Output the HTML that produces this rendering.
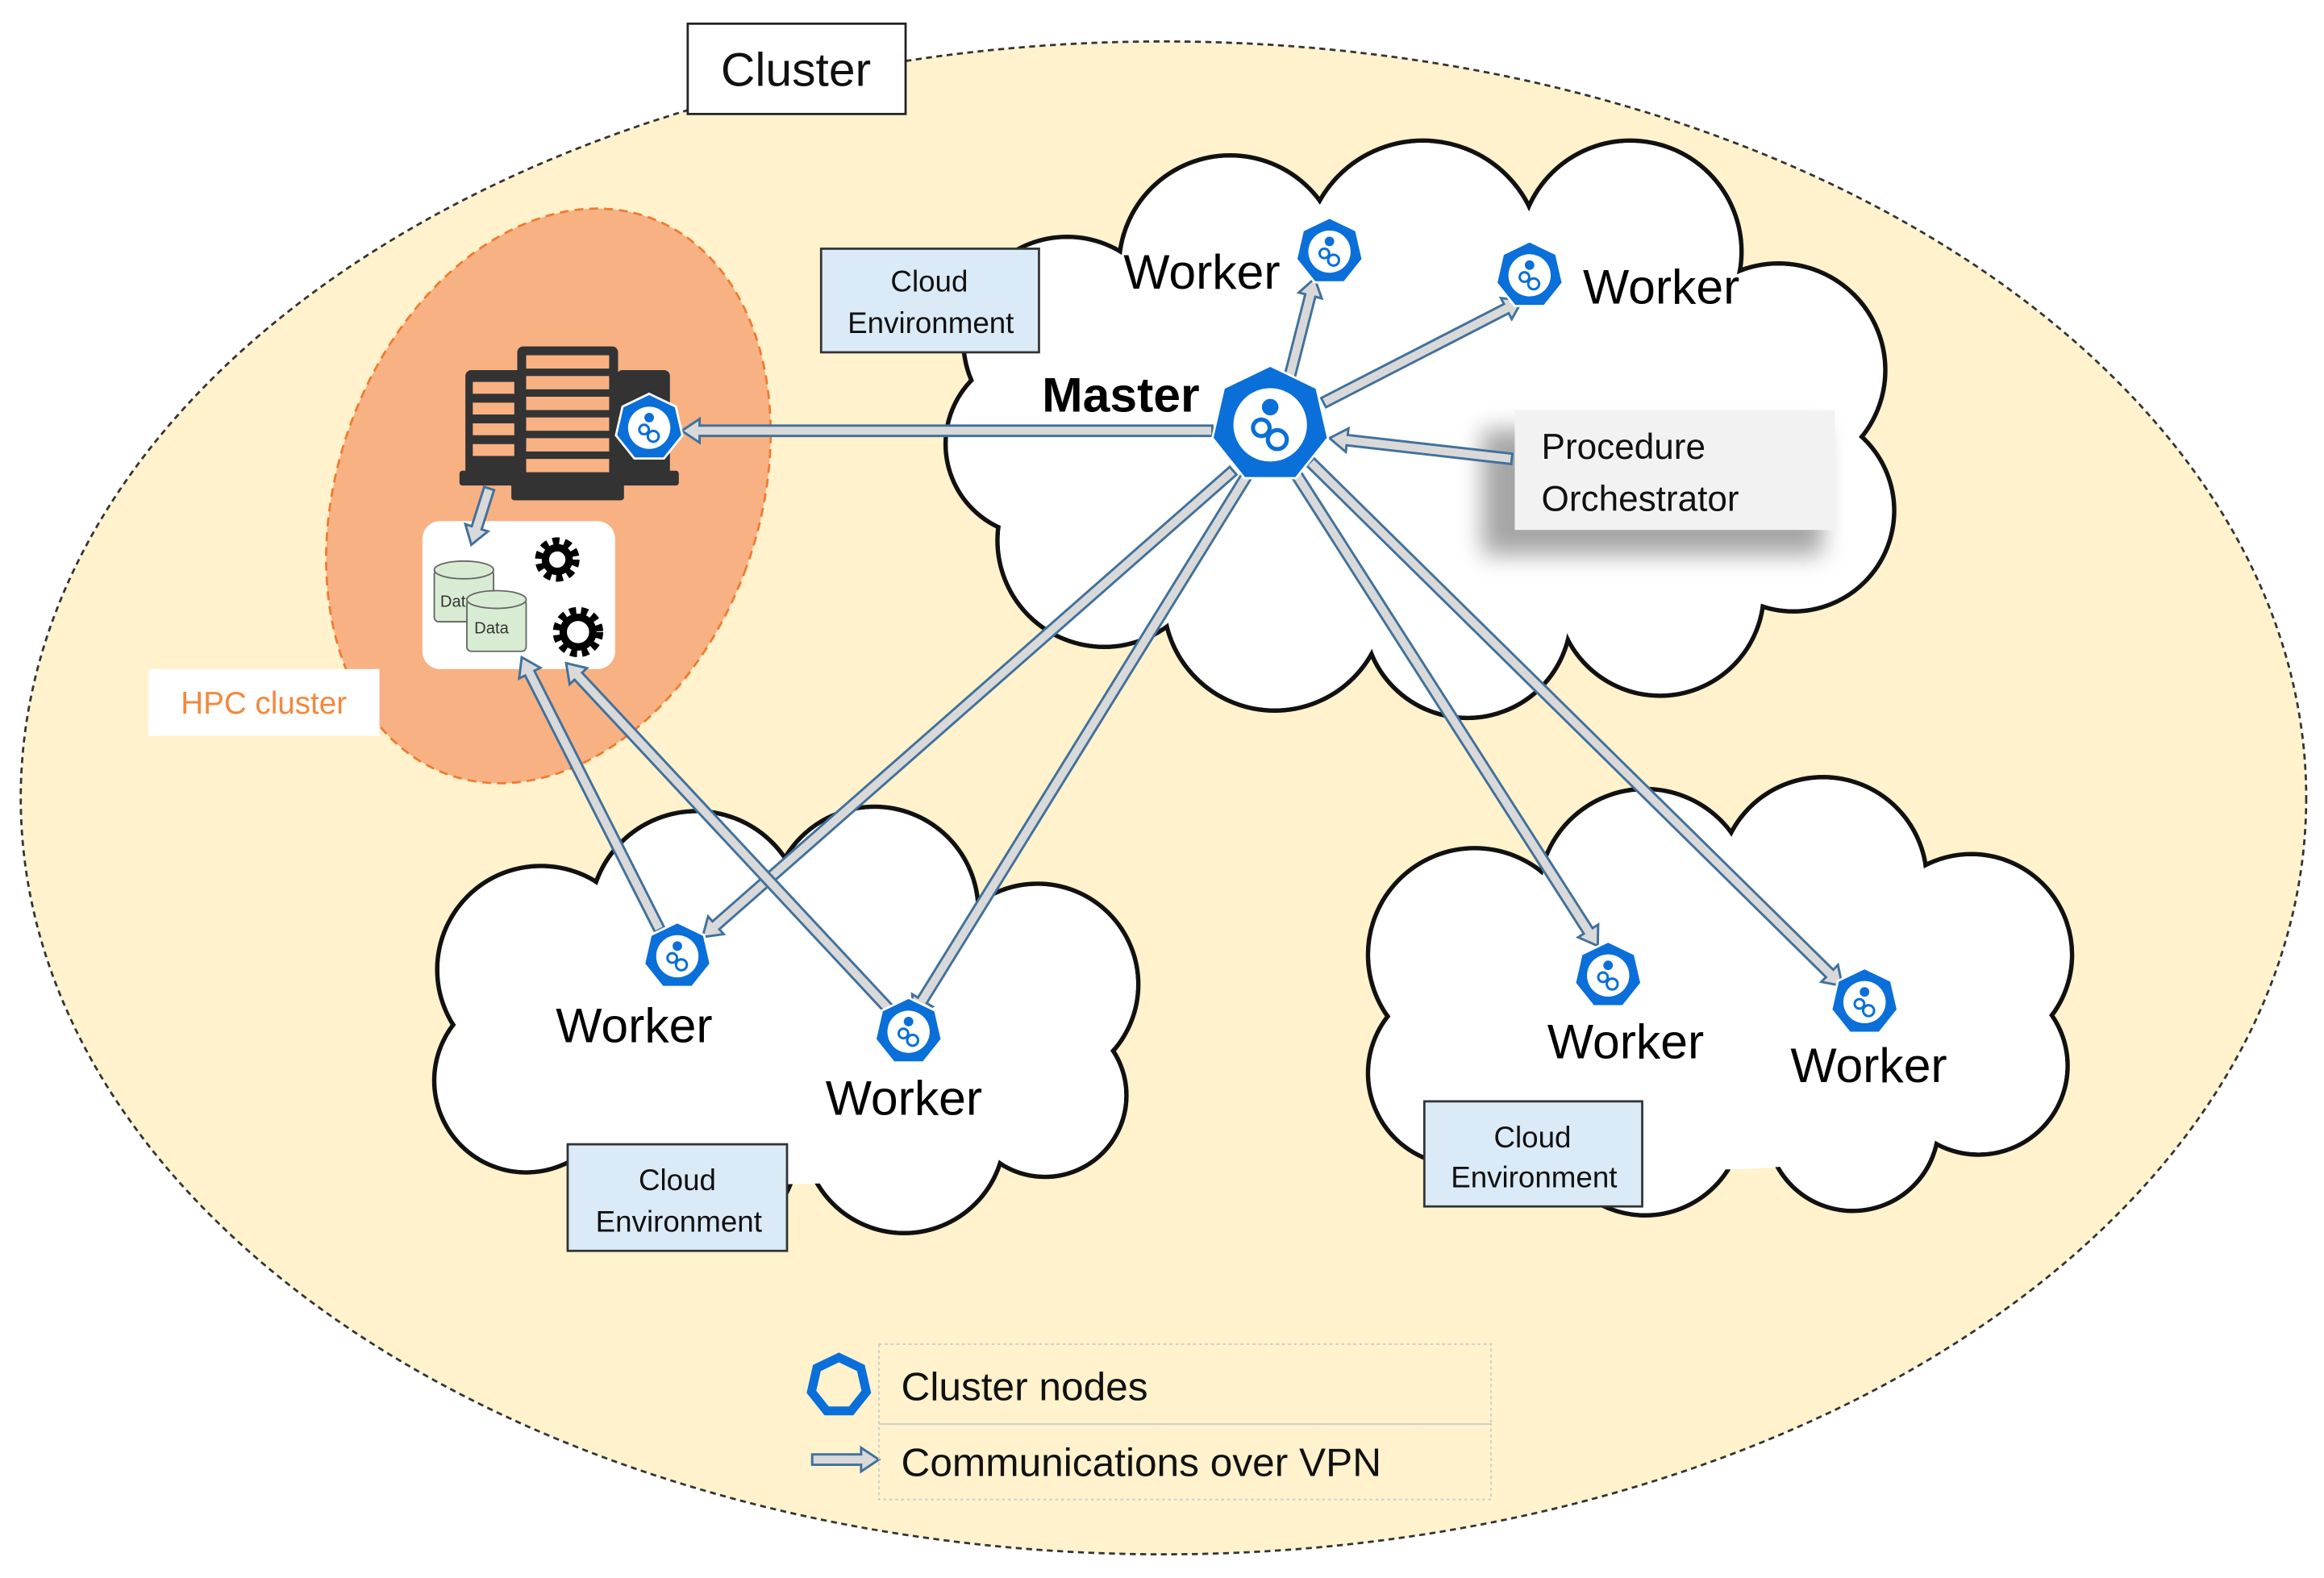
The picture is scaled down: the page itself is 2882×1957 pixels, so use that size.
<!DOCTYPE html>
<html><head><meta charset="utf-8"><style>html,body{margin:0;padding:0;background:#fff}svg{display:block}</style></head>
<body>
<svg id="s" width="2882" height="1957" viewBox="0 0 1568 1066" preserveAspectRatio="none" xmlns="http://www.w3.org/2000/svg" font-family="Liberation Sans, DejaVu Sans, sans-serif">
<defs>
<filter id="sh" x="-30%" y="-30%" width="160%" height="180%"><feGaussianBlur stdDeviation="8"/></filter>
</defs>
<ellipse cx="785" cy="539" rx="771" ry="511" fill="#fff2cc" stroke="#333" stroke-width="1.5" stroke-dasharray="4,3"/>
<rect x="464" y="16" width="147" height="61" fill="#fff" stroke="#222" stroke-width="1.5"/>
<text x="537" y="58" font-size="32" text-anchor="middle" fill="#111">Cluster</text>
<ellipse cx="370" cy="335" rx="142" ry="200" transform="rotate(20 370 335)" fill="#f8b183" stroke="#f07a30" stroke-width="1.5" stroke-dasharray="6,4"/>
<g id="clouds"></g>
<!-- server icon -->
<g fill="#333">
<rect x="314" y="250" width="40" height="72" rx="4"/><rect x="416" y="250" width="36" height="72" rx="4"/>
<rect x="349" y="234" width="68" height="96" rx="4"/>
<rect x="310" y="318" width="46" height="10" rx="2"/><rect x="414" y="318" width="44" height="10" rx="2"/>
<rect x="345" y="326" width="76" height="12" rx="2"/>
</g>
<g fill="#f8b183">
<rect x="355" y="240" width="56" height="9"/><rect x="355" y="254" width="56" height="9"/><rect x="355" y="268" width="56" height="9"/><rect x="355" y="282" width="56" height="9"/><rect x="355" y="296" width="56" height="9"/><rect x="355" y="310" width="56" height="9"/>
<rect x="319" y="258" width="28" height="8"/><rect x="319" y="272" width="28" height="8"/><rect x="319" y="286" width="28" height="8"/><rect x="319" y="300" width="28" height="8"/>
</g>
<rect x="285" y="352" width="130" height="100" rx="12" fill="#fff"/>
<g stroke="#666" stroke-width="1" fill="#d8ecd3">
<rect x="293" y="385" width="40" height="35" rx="3"/><ellipse cx="313" cy="385" rx="20" ry="6"/>
<rect x="315" y="405" width="40" height="35" rx="3"/><ellipse cx="335" cy="405" rx="20" ry="6"/>
</g>
<text x="297" y="410" font-size="11" fill="#333">Dat</text>
<text x="320" y="428" font-size="11" fill="#333">Data</text>
<g fill="none" stroke="#000">
<circle cx="376" cy="378" r="11" stroke-width="8" stroke-dasharray="4,3"/><circle cx="376" cy="378" r="8" stroke-width="5"/>
<circle cx="390" cy="427" r="13" stroke-width="8" stroke-dasharray="4,3"/><circle cx="390" cy="427" r="10" stroke-width="5"/>
</g>
<rect x="100" y="452" width="156" height="45" fill="#fff"/>
<text x="178" y="482" font-size="21" text-anchor="middle" fill="#f4883c">HPC cluster</text>
<!-- cloud env boxes -->
<g fill="#dbeaf7" stroke="#333" stroke-width="1.5">
<rect x="554" y="168" width="147" height="70"/><rect x="383" y="773" width="148" height="72"/><rect x="961" y="744" width="147" height="71"/>
</g>
<g font-size="20" text-anchor="middle" fill="#111">
<text x="627" y="197">Cloud</text><text x="628" y="225">Environment</text>
<text x="457" y="804">Cloud</text><text x="458" y="832">Environment</text>
<text x="1034" y="775">Cloud</text><text x="1035" y="802">Environment</text>
</g>
<rect x="1000" y="290" width="230" height="85" fill="#000" opacity="0.35" filter="url(#sh)"/>
<rect x="1022" y="277" width="216" height="81" fill="#f2f2f2"/>
<text x="1040" y="310" font-size="24" fill="#111">Procedure</text>
<text x="1040" y="345" font-size="24" fill="#111">Orchestrator</text>
<g id="arrows"></g>
<g id="hex"></g>
<g font-size="33" fill="#000">
<text x="758" y="195">Worker</text><text x="1068" y="205">Worker</text>
<text x="375" y="704">Worker</text><text x="557" y="753">Worker</text>
<text x="1044" y="715">Worker</text><text x="1208" y="731">Worker</text>
<text x="703" y="278" font-weight="bold">Master</text>
</g>
<g stroke="#ccc" stroke-width="1" stroke-dasharray="2,2" fill="none">
<rect x="593" y="908" width="413" height="54"/><rect x="593" y="962" width="413" height="51"/>
</g>
<text x="608" y="946" font-size="27" fill="#111">Cluster nodes</text>
<text x="608" y="997" font-size="27" fill="#111">Communications over VPN</text>
</svg>
<script>
var NS="http://www.w3.org/2000/svg";
function el(p,t,a){var e=document.createElementNS(NS,t);for(var k in a)e.setAttribute(k,a[k]);p.appendChild(e);return e;}
var cg=document.getElementById('clouds');
var clouds=[
[[720,230,70],[830,180,75],[960,175,80],[1100,170,75],[1200,250,72],[1210,345,68],[1120,400,70],[990,415,70],[860,405,75],[745,365,72],[700,300,62],[950,300,250,130]],
[[365,655,70],[470,620,72],[590,615,70],[700,665,68],[705,740,55],[610,765,68],[470,775,68],[355,730,62],[530,700,220,100]],
[[995,645,72],[1110,605,72],[1230,595,70],[1330,645,68],[1335,720,60],[1250,760,58],[1110,755,66],[985,725,62],[1160,690,220,100]]];
clouds.forEach(function(c){
 c.forEach(function(b){if(b.length==3)el(cg,'circle',{cx:b[0],cy:b[1],r:b[2],fill:'#fff',stroke:'#111','stroke-width':3});});
 c.forEach(function(b){if(b.length==3)el(cg,'circle',{cx:b[0],cy:b[1],r:b[2]-1.5,fill:'#fff'});else el(cg,'ellipse',{cx:b[0],cy:b[1],rx:b[2],ry:b[3],fill:'#fff'});});
});
var ag=document.getElementById('arrows');
function arrow(x1,y1,x2,y2){
 var dx=x2-x1,dy=y2-y1,L=Math.hypot(dx,dy),ux=dx/L,uy=dy/L,nx=-uy,ny=ux,w=3.5,hw=8,hl=12;
 var bx=x2-ux*hl,by=y2-uy*hl;
 var p=[[x1+nx*w,y1+ny*w],[bx+nx*w,by+ny*w],[bx+nx*hw,by+ny*hw],[x2,y2],[bx-nx*hw,by-ny*hw],[bx-nx*w,by-ny*w],[x1-nx*w,y1-ny*w]];
 el(ag,'polygon',{points:p.map(function(q){return q.join(',')}).join(' '),fill:'#d9d9d9',stroke:'#41719c','stroke-width':1.6});
}
arrow(870,255,887,188);arrow(893,272,1027,203);arrow(818,291,460,291);arrow(1020,310,897,296);
arrow(832,318,474,633);arrow(842,320,616,686);arrow(873,318,1078,639);arrow(884,312,1243,666);
arrow(445,628,352,444);arrow(600,682,382,448);arrow(330,330,318,368);arrow(548,986,593,986);
var hg=document.getElementById('hex');
function hept(cx,cy,r,outline){
 var p=[];for(var i=0;i<7;i++){var a=-Math.PI/2+i*2*Math.PI/7;p.push((cx+r*Math.cos(a))+','+(cy+r*Math.sin(a)));}
 if(outline){el(hg,'polygon',{points:p.join(' '),fill:'none',stroke:'#0a6fd8','stroke-width':6});return;}
 el(hg,'polygon',{points:p.join(' '),fill:'#0a6fd8',stroke:'#fff','stroke-width':1.5});
 el(hg,'circle',{cx:cx,cy:cy,r:r*0.62,fill:'#fff'});
 el(hg,'circle',{cx:cx,cy:cy-r*0.3,r:r*0.14,fill:'#0a6fd8'});
 el(hg,'circle',{cx:cx-r*0.15,cy:cy+r*0.05,r:r*0.14,fill:'none',stroke:'#0a6fd8','stroke-width':r*0.07});
 el(hg,'circle',{cx:cx+r*0.12,cy:cy+r*0.25,r:r*0.16,fill:'none',stroke:'#0a6fd8','stroke-width':r*0.07});
}
hept(857,287,40);
[[897,170],[1032,186],[438,289],[457,646],[613,697],[1085,659],[1258,677]].forEach(function(h){hept(h[0],h[1],23);});
hept(566,936,19,true);
</script>
</body></html>
